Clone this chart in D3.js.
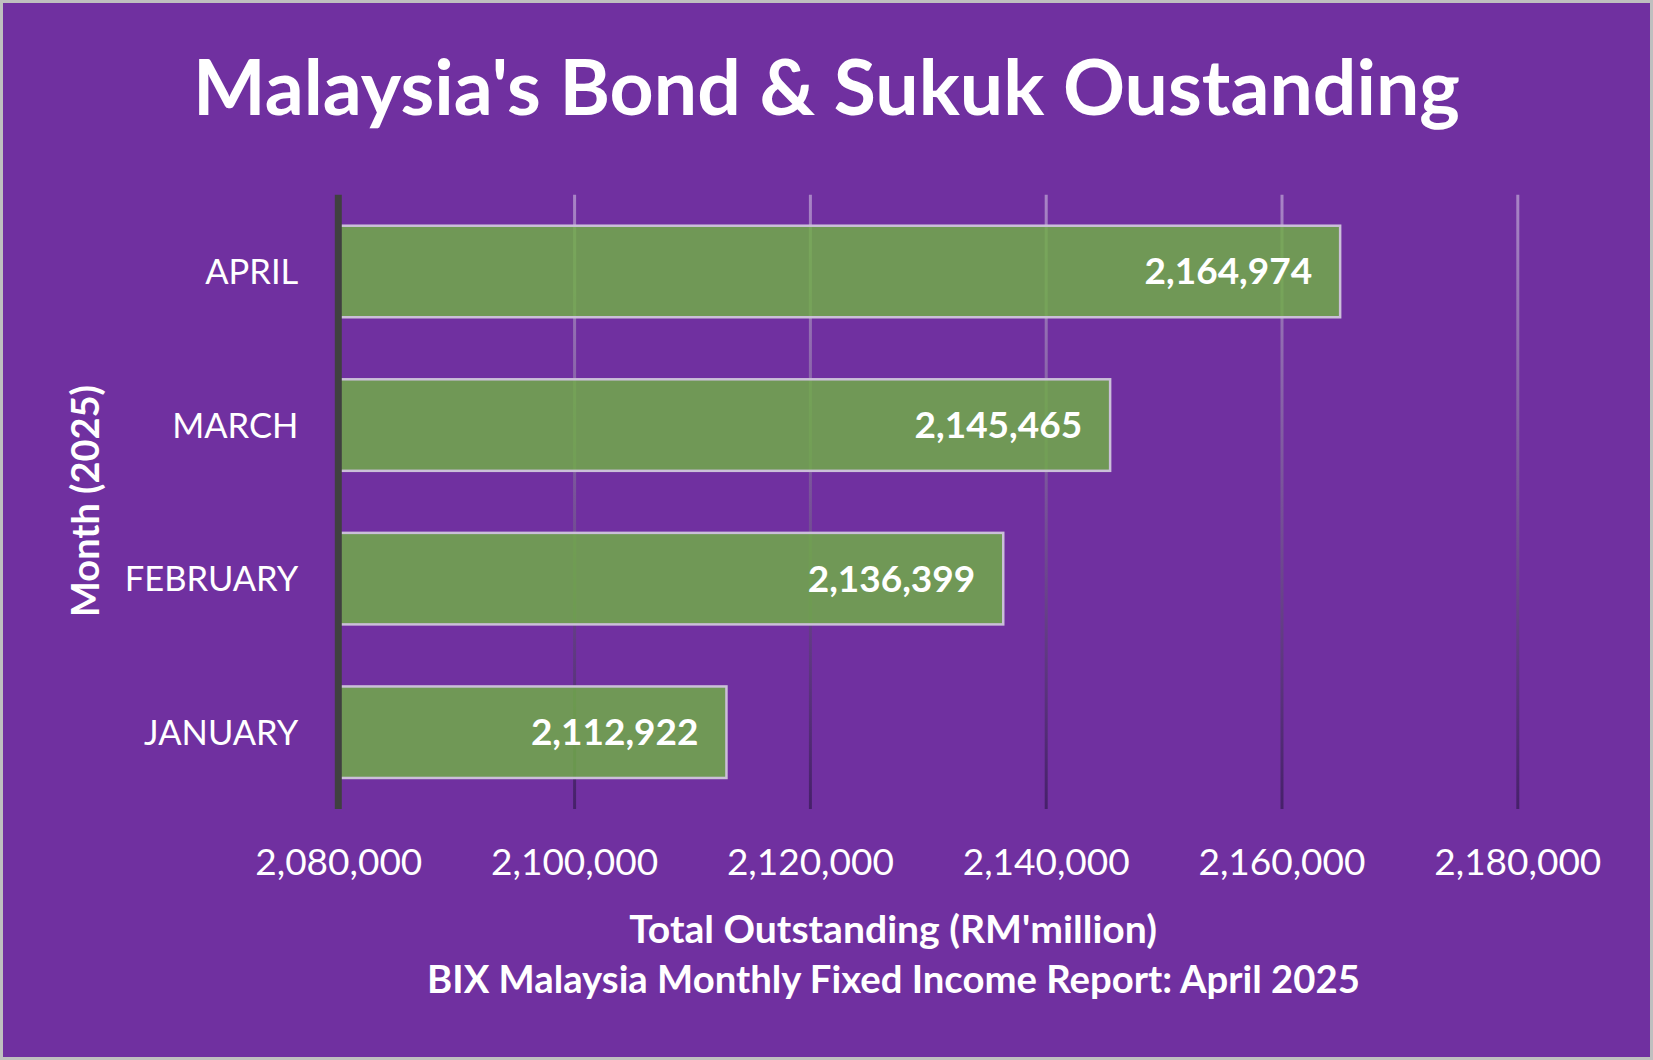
<!DOCTYPE html>
<html><head><meta charset="utf-8">
<script src="https://cdn.jsdelivr.net/npm/d3@7"></script>
<style>html,body{margin:0;padding:0;background:#fff}svg{display:block}</style>
</head><body>
<script>
const months = ["JANUARY","FEBRUARY","MARCH","APRIL"];
const outstanding = [2112922, 2136399, 2145465, 2164974];
const xTicks = [2080000, 2100000, 2120000, 2140000, 2160000, 2180000];
const titleText = "Malaysia's Bond & Sukuk Oustanding";
const xTitleText = "Total Outstanding (RM'million)";
const sourceText = "BIX Malaysia Monthly Fixed Income Report: April 2025";
const yTitleText = "Month (2025)";

const data = months.map((m, i) => ({month: m, value: outstanding[i]}));

const W = 1653, H = 1060;
const FONT = "Lato, 'Open Sans', sans-serif";
const plot = {left: 338.3, right: 1517.3, top: 194.7, bottom: 809};

const svg = d3.select("body").append("svg").attr("width", W).attr("height", H)
  .style("font-family", FONT);

function fit(sel, w) {
  const len = sel.node().getComputedTextLength();
  const fs = parseFloat(sel.attr("font-size"));
  sel.attr("font-size", fs * w / len);
  return sel;
}

// background + border
svg.append("rect").attr("x", 1.5).attr("y", 1.5).attr("width", W - 3).attr("height", H - 3)
  .attr("fill", "#7030A0").attr("stroke", "#bfbfbf").attr("stroke-width", 3);

const x = d3.scaleLinear().domain([xTicks[0], xTicks[xTicks.length - 1]]).range([plot.left, plot.right]);
const y = d3.scaleBand().domain(months.slice().reverse()).range([plot.top, plot.bottom])
  .paddingInner(0.404).paddingOuter(0.202);

const plotH = plot.bottom - plot.top;
const defs = svg.append("defs");
const grad = defs.append("linearGradient").attr("id", "gridGrad")
  .attr("gradientUnits", "userSpaceOnUse")
  .attr("x1", 0).attr("y1", -plotH).attr("x2", 0).attr("y2", 0);
grad.append("stop").attr("offset", "0%").attr("stop-color", "#a884c6");
grad.append("stop").attr("offset", "100%").attr("stop-color", "#46206a");

// gridlines
const grid = svg.append("g").attr("transform", `translate(0,${plot.bottom})`)
  .call(d3.axisBottom(x).tickValues(xTicks.slice(1)).tickSize(-plotH).tickFormat(""));
grid.select(".domain").remove();
grid.selectAll(".tick line").attr("stroke", "url(#gridGrad)").attr("stroke-width", 3);

// x axis labels
const xAxis = svg.append("g").attr("transform", `translate(0,${plot.bottom})`)
  .call(d3.axisBottom(x).tickValues(xTicks).tickSize(0).tickFormat(d3.format(",")));
xAxis.select(".domain").remove();
xAxis.selectAll(".tick text").attr("y", 66).attr("dy", 0)
  .attr("fill", "#ffffff").attr("font-size", 37).attr("font-family", FONT);

// bars
svg.append("g").selectAll("rect").data(data).join("rect")
  .attr("x", x(xTicks[0]))
  .attr("y", d => y(d.month))
  .attr("width", d => x(d.value) - x(xTicks[0]))
  .attr("height", y.bandwidth())
  .attr("fill", "#70AD47").attr("fill-opacity", 0.84)
  .attr("stroke", "#cbbfd9").attr("stroke-width", 2.5);

// value labels
svg.append("g").selectAll("text").data(data).join("text")
  .attr("x", d => x(d.value) - 28)
  .attr("y", d => y(d.month) + y.bandwidth() / 2 + 13)
  .attr("text-anchor", "end").attr("fill", "#ffffff")
  .attr("font-weight", 700).attr("font-size", 37)
  .text(d => d3.format(",")(d.value));

// y axis (category labels)
const yAxis = svg.append("g").attr("transform", `translate(${plot.left},0)`)
  .call(d3.axisLeft(y).tickSize(0));
yAxis.select(".domain").remove();
yAxis.selectAll(".tick text").attr("x", -40).attr("dy", 0).attr("y", 12.5)
  .attr("fill", "#ffffff").attr("font-size", 34.5).attr("font-family", FONT);

// axis line
svg.append("line").attr("x1", plot.left).attr("x2", plot.left)
  .attr("y1", plot.top).attr("y2", plot.bottom)
  .attr("stroke", "#404040").attr("stroke-width", 7);

// title
fit(svg.append("text").attr("x", W / 2).attr("y", 115).attr("text-anchor", "middle")
  .attr("fill", "#ffffff").attr("font-weight", 700).attr("font-size", 80).text(titleText), 1267);

// axis title + source
fit(svg.append("text").attr("x", 893).attr("y", 943).attr("text-anchor", "middle")
  .attr("fill", "#ffffff").attr("font-weight", 700).attr("font-size", 34).text(xTitleText), 528);
fit(svg.append("text").attr("x", 893.5).attr("y", 993).attr("text-anchor", "middle")
  .attr("fill", "#ffffff").attr("font-weight", 700).attr("font-size", 34).text(sourceText), 933);

// y title
fit(svg.append("text").attr("transform", `translate(99,501) rotate(-90)`)
  .attr("text-anchor", "middle").attr("fill", "#ffffff")
  .attr("font-weight", 700).attr("font-size", 36).text(yTitleText), 232);
</script>
</body></html>
